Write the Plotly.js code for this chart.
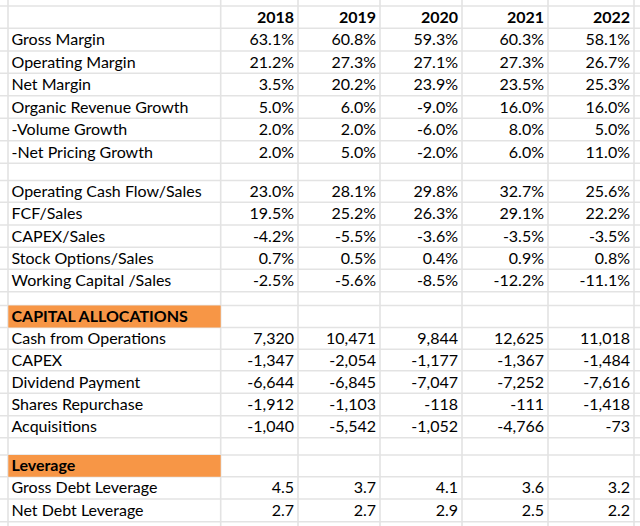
<!DOCTYPE html>
<html>
<head>
<meta charset="utf-8">
<script src="https://cdn.plot.ly/plotly-3.0.1.min.js"></script>
<style>html,body{margin:0;padding:0;background:#fff;}#chart{width:640px;height:526px;}</style>
</head>
<body>
<div id="chart"></div>
<script>
// ---------- DATA ----------
var years = ['2018', '2019', '2020', '2021', '2022'];

var marginLabels = ['Gross Margin', 'Operating Margin', 'Net Margin', 'Organic Revenue Growth', '-Volume Growth', '-Net Pricing Growth'];
var grossMargin = [63.1, 60.8, 59.3, 60.3, 58.1];
var operatingMargin = [21.2, 27.3, 27.1, 27.3, 26.7];
var netMargin = [3.5, 20.2, 23.9, 23.5, 25.3];
var organicRevenueGrowth = [5.0, 6.0, -9.0, 16.0, 16.0];
var volumeGrowth = [2.0, 2.0, -6.0, 8.0, 5.0];
var netPricingGrowth = [2.0, 5.0, -2.0, 6.0, 11.0];

var cashLabels = ['Operating Cash Flow/Sales', 'FCF/Sales', 'CAPEX/Sales', 'Stock Options/Sales', 'Working Capital /Sales'];
var ocfSales = [23.0, 28.1, 29.8, 32.7, 25.6];
var fcfSales = [19.5, 25.2, 26.3, 29.1, 22.2];
var capexSales = [-4.2, -5.5, -3.6, -3.5, -3.5];
var stockOptionsSales = [0.7, 0.5, 0.4, 0.9, 0.8];
var workingCapitalSales = [-2.5, -5.6, -8.5, -12.2, -11.1];

var allocTitle = 'CAPITAL ALLOCATIONS';
var allocLabels = ['Cash from Operations', 'CAPEX', 'Dividend Payment', 'Shares Repurchase', 'Acquisitions'];
var cashFromOperations = [7320, 10471, 9844, 12625, 11018];
var capex = [-1347, -2054, -1177, -1367, -1484];
var dividendPayment = [-6644, -6845, -7047, -7252, -7616];
var sharesRepurchase = [-1912, -1103, -118, -111, -1418];
var acquisitions = [-1040, -5542, -1052, -4766, -73];

var leverageTitle = 'Leverage';
var leverageLabels = ['Gross Debt Leverage', 'Net Debt Leverage'];
var grossDebtLeverage = [4.5, 3.7, 4.1, 3.6, 3.2];
var netDebtLeverage = [2.7, 2.7, 2.9, 2.5, 2.2];

// ---------- BUILD ROWS ----------
function pct(v) { return v.toFixed(1) + '%'; }
function thou(v) { return v.toLocaleString('en-US'); }
function dec(v) { return v.toFixed(1); }

var rows = [];
rows.push({kind: 'header', label: '', vals: years.map(function (y) { return '<b>' + y + '</b>'; })});
var mSeries = [grossMargin, operatingMargin, netMargin, organicRevenueGrowth, volumeGrowth, netPricingGrowth];
marginLabels.forEach(function (l, i) { rows.push({kind: 'row', label: l, vals: mSeries[i].map(pct)}); });
rows.push({kind: 'blank', label: '', vals: null});
var cSeries = [ocfSales, fcfSales, capexSales, stockOptionsSales, workingCapitalSales];
cashLabels.forEach(function (l, i) { rows.push({kind: 'row', label: l, vals: cSeries[i].map(pct)}); });
rows.push({kind: 'blank', label: '', vals: null});
rows.push({kind: 'section', label: '<b>' + allocTitle + '</b>', vals: null});
var aSeries = [cashFromOperations, capex, dividendPayment, sharesRepurchase, acquisitions];
allocLabels.forEach(function (l, i) { rows.push({kind: 'row', label: l, vals: aSeries[i].map(thou)}); });
rows.push({kind: 'blank', label: '', vals: null});
rows.push({kind: 'section', label: '<b>' + leverageTitle + '</b>', vals: null});
var lSeries = [grossDebtLeverage, netDebtLeverage];
leverageLabels.forEach(function (l, i) { rows.push({kind: 'row', label: l, vals: lSeries[i].map(dec)}); });

// ---------- GEOMETRY (sheet grid, pixels) ----------
var rowEdges = [6, 28.3, 51, 73.3, 95.7, 118.3, 140.7, 163.3, 180.5, 202.3, 225, 247.3, 269.3, 291.7,
  305.5, 327.5, 349.3, 370.7, 393.3, 415.7, 437.7, 455, 476.7, 499, 521.7];
var colEdges = [8, 220.7, 298, 380, 462, 548, 634];
var W = 640, H = 526;
var FONT = 'Lato, "Open Sans", sans-serif';
var FS = 16;
var TEXT_DY = 1.6;

function rowCenter(i) { return (rowEdges[i] + rowEdges[i + 1]) / 2 + TEXT_DY; }

var traces = [];
// labels
var lx = [], ly = [], lt = [];
rows.forEach(function (r, i) { if (r.label) { lx.push(colEdges[0] + 3.5); ly.push(rowCenter(i)); lt.push(r.label); } });
traces.push({type: 'scatter', mode: 'text', x: lx, y: ly, text: lt, textposition: 'middle right',
  textfont: {family: FONT, size: FS, color: '#000'}, hoverinfo: 'skip', cliponaxis: false, showlegend: false});
// year columns
years.forEach(function (y, c) {
  var xs = [], ys = [], ts = [];
  rows.forEach(function (r, i) { if (r.vals) { xs.push(colEdges[c + 2] - 4); ys.push(rowCenter(i)); ts.push(r.vals[c]); } });
  traces.push({type: 'scatter', mode: 'text', x: xs, y: ys, text: ts, textposition: 'middle left',
    textfont: {family: FONT, size: FS, color: '#000'}, hoverinfo: 'skip', cliponaxis: false, showlegend: false, name: y});
});

// grid + fills
var shapes = [];
var gridColor = '#e3e3e3';
rowEdges.forEach(function (e) {
  shapes.push({type: 'line', xref: 'x', yref: 'y', x0: 0, x1: W, y0: e, y1: e, line: {color: gridColor, width: 1.6}, layer: 'below'});
});
colEdges.forEach(function (e) {
  shapes.push({type: 'line', xref: 'x', yref: 'y', x0: e, x1: e, y0: 0, y1: H, line: {color: gridColor, width: 1.6}, layer: 'below'});
});
rows.forEach(function (r, i) {
  if (r.kind === 'section') {
    shapes.push({type: 'rect', xref: 'x', yref: 'y', x0: colEdges[0] + 0.3, x1: colEdges[1], y0: rowEdges[i], y1: rowEdges[i + 1],
      fillcolor: '#f79646', line: {width: 0}, layer: 'below'});
  }
});

var layout = {
  width: W, height: H,
  margin: {l: 0, r: 0, t: 0, b: 0, pad: 0},
  paper_bgcolor: '#ffffff', plot_bgcolor: '#ffffff',
  xaxis: {range: [0, W], visible: false, fixedrange: true},
  yaxis: {range: [H, 0], visible: false, fixedrange: true},
  shapes: shapes,
  showlegend: false
};

Plotly.newPlot('chart', traces, layout, {staticPlot: true, displayModeBar: false});
</script>
</body>
</html>
